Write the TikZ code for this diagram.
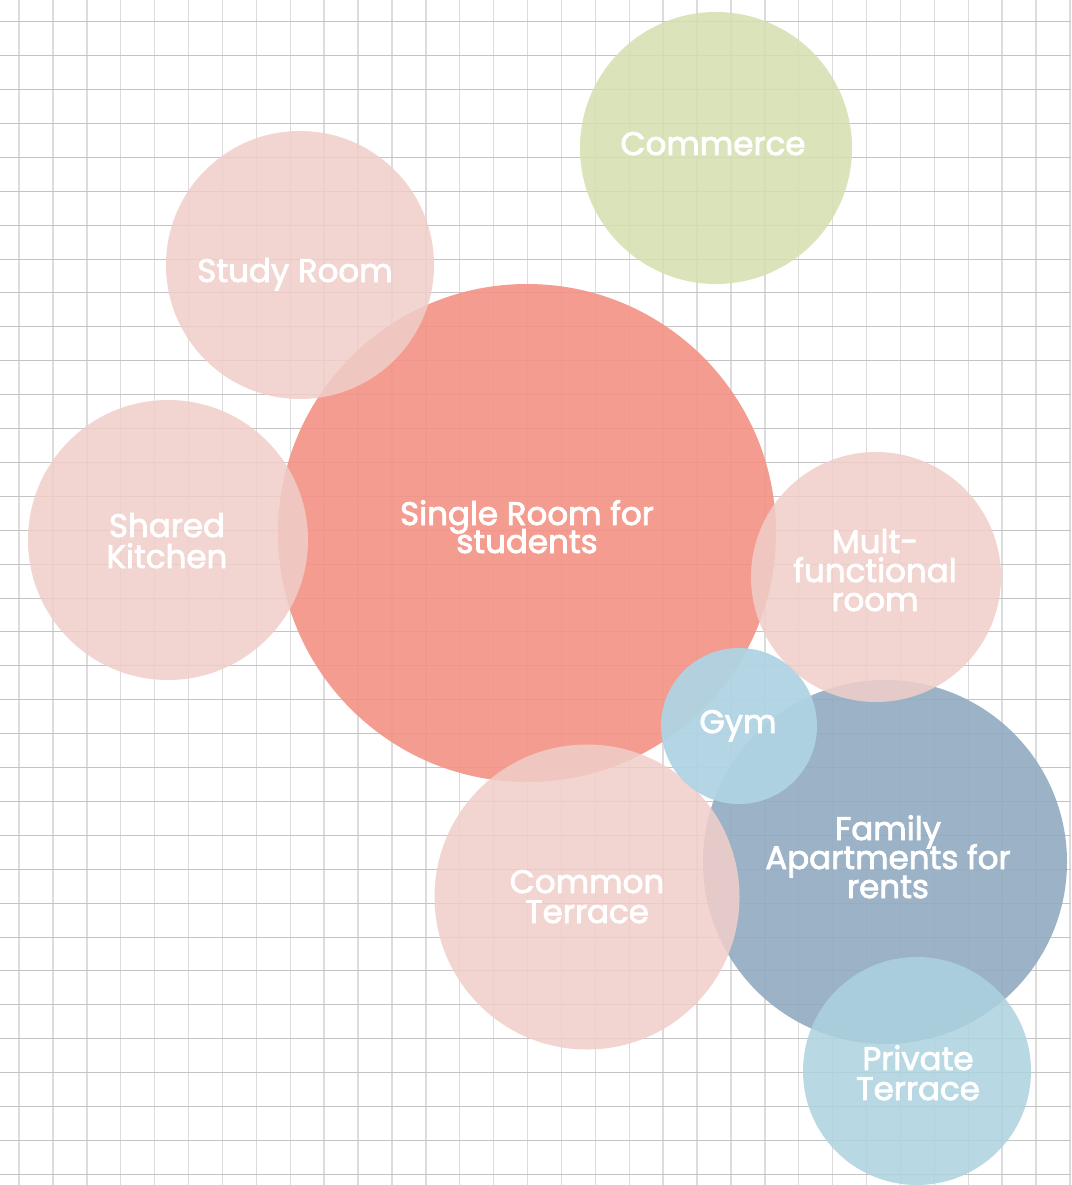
\documentclass[tikz,border=0pt]{standalone}
\usepackage{fontspec}
\setmainfont{Poppins}
\newfontfamily\lblfont{Poppins}[FakeBold=2.5]
\definecolor{salmon}{HTML}{F39285}
\definecolor{pinkc}{HTML}{F0CEC9}
\definecolor{greenc}{HTML}{D6DFB0}
\definecolor{famblue}{HTML}{92ABC1}
\definecolor{gymblue}{HTML}{B0D3E3}
\definecolor{privblue}{HTML}{ADD2DF}
\definecolor{vgrid}{HTML}{DCDCDC}
\definecolor{hgrid}{HTML}{C4C4C4}
\begin{document}
\begin{tikzpicture}[x=1pt,y=-1pt,
  bubble/.style={circle, inner sep=0pt, fill opacity=0.86},
  pinkbubble/.style={bubble, fill=pinkc},
  lbl/.style={anchor=base, inner sep=0pt, text=white,
    font=\lblfont\fontsize{32.5}{29}\selectfont}]
\useasboundingbox (0,0) rectangle (1071,1185);
\fill[white] (0,0) rectangle (1071,1185);
% grid
\foreach \i in {0,...,31} {
  \draw[vgrid, line width=1.4pt] ({19+33.9*\i},0) -- ({19+33.9*\i},1185);
}
\foreach \j in {0,...,34} {
  \draw[hgrid, line width=1pt] (0,{21.7+33.9*\j}) -- (1071,{21.7+33.9*\j});
}
% circles with their labels
\node[bubble, fill=salmon, fill opacity=0.9, minimum size=498pt] (single) at (527,533) {};
\node[lbl] (single1) at (527,525) {Single Room for};
\node[lbl] (single2) at (527,553) {students};

\node[pinkbubble, minimum size=268pt] (study) at (300,265) {};
\node[lbl] (study1) at (295,282) {Study Room};

\node[pinkbubble, minimum size=280pt] (kitchen) at (168,540) {};
\node[lbl] (kitchen1) at (167,537) {Shared};
\node[lbl] (kitchen2) at (167,568) {Kitchen};

\node[bubble, fill=greenc, minimum size=272pt] (commerce) at (716,148) {};
\node[lbl] (commerce1) at (713,155) {Commerce};

\node[bubble, fill=famblue, fill opacity=0.9, minimum size=364pt] (family) at (885,862) {};
\node[lbl] (family1) at (888,840) {Family};
\node[lbl] (family2) at (888,869) {Apartments for};
\node[lbl] (family3) at (888,898) {rents};

\node[pinkbubble, minimum size=250pt] (multi) at (876,577) {};
\node[lbl] (multi1) at (875,553) {Mult-};
\node[lbl] (multi2) at (875,582) {functional};
\node[lbl] (multi3) at (875,611) {room};

\node[pinkbubble, minimum size=305pt] (common) at (587,897) {};
\node[lbl] (common1) at (587,893) {Common};
\node[lbl] (common2) at (587,923) {Terrace};

\node[bubble, fill=gymblue, fill opacity=0.95, minimum size=156pt] (gym) at (739,726) {};
\node[lbl] (gym1) at (738,733) {Gym};

\node[bubble, fill=privblue, minimum size=228pt] (private) at (917,1071) {};
\node[lbl] (private1) at (918,1070) {Private};
\node[lbl] (private2) at (918,1100) {Terrace};
\end{tikzpicture}
\end{document}
